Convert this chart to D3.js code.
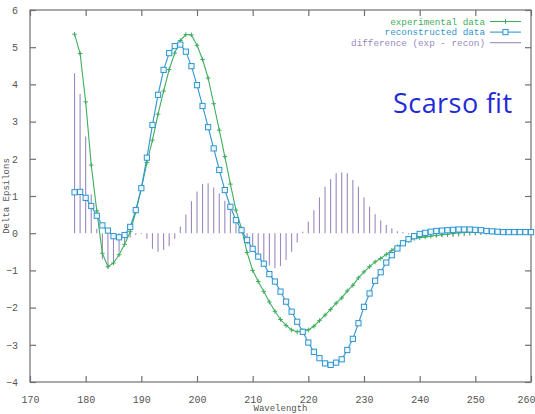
<!DOCTYPE html>
<html><head><meta charset="utf-8">
<script src="https://cdn.jsdelivr.net/npm/d3@7/dist/d3.min.js"></script>
<style>html,body{margin:0;padding:0;background:#fff;}svg{display:block;}</style>
</head><body>
<svg id="chart" width="535" height="414"></svg>
<script>
const wavelengths = d3.range(178, 261);
const experimental = [5.35,4.83,3.53,1.83,0.6,-0.54,-0.9,-0.8,-0.58,-0.3,0.04,0.57,1.2,1.9,2.5,3.2,3.82,4.4,4.84,5.18,5.34,5.33,5.05,4.67,4.17,3.48,2.77,2.06,1.32,0.62,0.12,-0.52,-1.0,-1.3,-1.57,-1.85,-2.1,-2.32,-2.48,-2.6,-2.65,-2.62,-2.6,-2.5,-2.35,-2.2,-2.05,-1.88,-1.74,-1.55,-1.4,-1.2,-1.04,-0.9,-0.77,-0.68,-0.57,-0.46,-0.36,-0.26,-0.19,-0.14,-0.12,-0.1,-0.08,-0.06,-0.04,-0.03,-0.01,0.01,0.02,0.03,0.03,0.03,0.03,0.03,0.02,0.02,0.02,0.02,0.02,0.02,0.02];
const reconstructed = [1.10,1.11,0.95,0.73,0.47,0.21,0.07,-0.08,-0.11,-0.05,0.17,0.62,1.21,2.03,2.91,3.72,4.39,4.84,5.03,5.07,4.88,4.49,3.98,3.42,2.85,2.28,1.70,1.16,0.71,0.35,0.08,-0.18,-0.42,-0.63,-0.82,-1.10,-1.30,-1.57,-1.84,-2.11,-2.38,-2.65,-2.94,-3.19,-3.36,-3.50,-3.54,-3.48,-3.39,-3.14,-2.84,-2.42,-1.98,-1.62,-1.28,-1.05,-0.79,-0.59,-0.41,-0.27,-0.16,-0.08,-0.02,0.01,0.04,0.06,0.07,0.08,0.09,0.1,0.1,0.1,0.09,0.08,0.06,0.05,0.04,0.03,0.03,0.03,0.03,0.03,0.03];
const difference = [4.3,3.74,2.6,1.05,0.12,-0.7,-0.95,-0.75,-0.5,-0.25,-0.12,-0.05,-0.02,-0.15,-0.42,-0.5,-0.45,-0.35,-0.15,0.18,0.5,0.86,1.12,1.32,1.34,1.23,1.07,0.87,0.62,0.35,0.13,-0.3,-0.5,-0.65,-0.78,-0.87,-0.94,-0.88,-0.72,-0.5,-0.25,0.04,0.31,0.62,0.96,1.25,1.45,1.61,1.63,1.61,1.43,1.25,0.96,0.71,0.51,0.34,0.22,0.13,0.05,0.03,-0.03,-0.06,-0.1,-0.1,-0.1,-0.1,-0.1,-0.1,-0.1,-0.09,-0.08,-0.07,-0.06,-0.05,-0.03,-0.02,-0.01,0,0,0,0,0,0];
const xTicks = [170,180,190,200,210,220,230,240,250,260];
const yTicks = [-4,-3,-2,-1,0,1,2,3,4,5,6];
const legendLabels = ["experimental data","reconstructed data","difference (exp - recon)"];

const colGreen = "#3fae5e", colBlue = "#2f95cf", colPurple = "#9a88bf";
const svg = d3.select("#chart");
const L = 30, R = 531, T = 10, B = 382;
const x = d3.scaleLinear().domain([170,260]).range([L,R]);
const y = d3.scaleLinear().domain([-4,6]).range([B,T]);
const mono = "'Liberation Mono', 'DejaVu Sans Mono', monospace";

// difference impulses
svg.append("g").selectAll("line").data(wavelengths).join("line")
  .attr("x1", (d)=>x(d)).attr("x2", (d)=>x(d))
  .attr("y1", y(0)).attr("y2", (d,i)=>y(difference[i]))
  .attr("stroke", colPurple).attr("stroke-width", 1.1);

// frame
svg.append("rect").attr("x",L).attr("y",T).attr("width",R-L).attr("height",B-T)
  .attr("fill","none").attr("stroke","#707070").attr("stroke-width",1.2);

// axes (inward ticks, labels outside)
const axB = d3.axisBottom(x).tickValues(xTicks).tickSize(-6).tickPadding(14).tickFormat(d3.format("d"));
const axT = d3.axisTop(x).tickValues(xTicks).tickSize(-6).tickFormat("");
const axL = d3.axisLeft(y).tickValues(yTicks).tickSize(-6).tickPadding(12).tickFormat(d=> d<0 ? "\u2212"+(-d) : String(d));
const axR = d3.axisRight(y).tickValues(yTicks).tickSize(-6).tickFormat("");
function style(g){ g.select(".domain").remove(); g.selectAll("line").attr("stroke","#707070").attr("stroke-width",1.2);
  g.selectAll("text").attr("fill","#555").style("font-family",mono).style("font-size","10px"); }
const gB = svg.append("g").attr("transform",`translate(0,${B})`).call(axB).call(style);
// keep the last label inside the window
gB.selectAll(".tick text").filter(d=>d===260).attr("text-anchor","end").attr("x",4);
svg.append("g").attr("transform",`translate(0,${T})`).call(axT).call(style);
svg.append("g").attr("transform",`translate(${L},0)`).call(axL).call(style);
svg.append("g").attr("transform",`translate(${R},0)`).call(axR).call(style);

// axis titles
svg.append("text").attr("x",280.5).attr("y",411).attr("text-anchor","middle")
  .attr("fill","#555").style("font-family",mono).style("font-size","9px").text("Wavelength");
svg.append("text").attr("transform","translate(9,196) rotate(-90)").attr("text-anchor","middle")
  .attr("fill","#555").style("font-family",mono).style("font-size","9px").text("Delta Epsilons");

// lines
const lineGen = (vals)=> d3.line().x((d)=>x(d)).y((d,i)=>y(vals[i]))(wavelengths);
svg.append("path").attr("d", lineGen(experimental)).attr("fill","none").attr("stroke",colGreen).attr("stroke-width",1.1);
svg.append("path").attr("d", lineGen(reconstructed)).attr("fill","none").attr("stroke",colBlue).attr("stroke-width",1.1);

// green plus markers
const plus = (g, cx, cy, s, c)=>{ g.append("path").attr("d",`M${cx-s},${cy}H${cx+s}M${cx},${cy-s}V${cy+s}`).attr("stroke",c).attr("stroke-width",1).attr("fill","none"); };
const gp = svg.append("g");
wavelengths.forEach((w,i)=> plus(gp, x(w), y(experimental[i]), 2.3, colGreen));
// blue square markers
svg.append("g").selectAll("rect").data(wavelengths).join("rect")
  .attr("x",(d)=>x(d)-2.6).attr("y",(d,i)=>y(reconstructed[i])-2.6).attr("width",5.2).attr("height",5.2)
  .attr("fill","#eef8fc").attr("stroke",colBlue).attr("stroke-width",1);

// legend
const legCols = [colGreen, colBlue, colPurple];
const lg = svg.append("g");
legendLabels.forEach((t,i)=>{
  const ly = 21.5 + i*10.6;
  lg.append("text").attr("x",485).attr("y",ly+3).attr("text-anchor","end").attr("fill",legCols[i])
    .style("font-family",mono).style("font-size","9.3px").text(t);
  lg.append("line").attr("x1",490).attr("x2",521).attr("y1",ly).attr("y2",ly).attr("stroke",legCols[i]).attr("stroke-width",1.1);
  if(i===0) plus(lg, 505.5, ly, 2.3, colGreen);
  if(i===1) lg.append("rect").attr("x",502.9).attr("y",ly-2.6).attr("width",5.2).attr("height",5.2).attr("fill","#eef8fc").attr("stroke",colBlue).attr("stroke-width",1);
});

// annotation
svg.append("text").attr("x",393).attr("y",113).attr("fill","#1f2bd6")
  .style("font-family","'Open Sans', sans-serif").style("font-size","27px").attr("textLength",119).text("Scarso fit");
</script>
</body></html>
